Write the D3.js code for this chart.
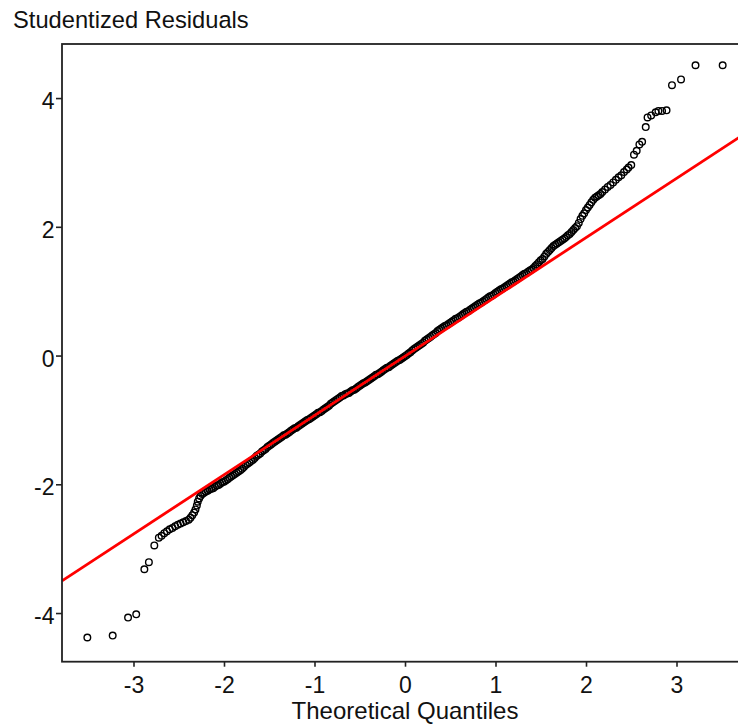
<!DOCTYPE html>
<html>
<head>
<meta charset="utf-8">
<script src="https://cdn.jsdelivr.net/npm/d3@7"></script>
<style>
  body { margin: 0; background: #fff; }
  svg { display: block; font-family: "Liberation Sans", Arial, sans-serif; }
</style>
</head>
<body>
<div id="chart"></div>
<script>
// [theoretical quantile, studentized residual] pairs
var lowerTail = [
  [-3.51, -4.38], [-3.23, -4.35], [-3.06, -4.07], [-2.97, -4.02],
  [-2.88, -3.32], [-2.83, -3.21], [-2.77, -2.95], [-2.72, -2.83]
];
var lowerBand = [
  [-2.69, -2.80], [-2.66, -2.76], [-2.63, -2.73], [-2.60, -2.70], [-2.57, -2.68],
  [-2.54, -2.65], [-2.51, -2.63], [-2.48, -2.61], [-2.45, -2.59], [-2.42, -2.57],
  [-2.39, -2.55], [-2.37, -2.52], [-2.35, -2.48], [-2.33, -2.44], [-2.315, -2.39],
  [-2.30, -2.33], [-2.29, -2.27], [-2.275, -2.22],
  [-2.26, -2.18], [-2.24, -2.15], [-2.22, -2.13], [-2.20, -2.11], [-2.18, -2.10],
  [-2.16, -2.08], [-2.14, -2.07], [-2.12, -2.06], [-2.10, -2.04], [-2.08, -2.02],
  [-2.06, -2.01], [-2.04, -1.99], [-2.02, -1.97], [-2.00, -1.96], [-1.98, -1.94],
  [-1.96, -1.92], [-1.94, -1.90], [-1.92, -1.88], [-1.90, -1.86], [-1.88, -1.84],
  [-1.86, -1.82], [-1.84, -1.80], [-1.82, -1.78], [-1.80, -1.76], [-1.78, -1.73],
  [-1.76, -1.70], [-1.74, -1.68], [-1.72, -1.66], [-1.70, -1.64], [-1.68, -1.62],
  [-1.66, -1.59], [-1.64, -1.56], [-1.62, -1.54], [-1.60, -1.52], [-1.58, -1.49],
  [-1.56, -1.47], [-1.54, -1.45], [-1.52, -1.42], [-1.50, -1.40], [-1.48, -1.38],
  [-1.46, -1.36], [-1.44, -1.34], [-1.42, -1.32]
];
var middleBand = [
  [-1.40, -1.30], [-1.38, -1.28], [-1.36, -1.26], [-1.34, -1.24], [-1.32, -1.23],
  [-1.30, -1.21], [-1.28, -1.19], [-1.26, -1.17], [-1.24, -1.15], [-1.22, -1.13],
  [-1.20, -1.12], [-1.18, -1.10], [-1.16, -1.08], [-1.14, -1.06], [-1.12, -1.04],
  [-1.10, -1.02], [-1.08, -1.00], [-1.06, -0.99], [-1.04, -0.97], [-1.02, -0.95],
  [-1.00, -0.93], [-0.98, -0.91], [-0.96, -0.89], [-0.94, -0.88], [-0.92, -0.86],
  [-0.90, -0.84], [-0.88, -0.82], [-0.86, -0.80], [-0.84, -0.78], [-0.82, -0.75],
  [-0.80, -0.73], [-0.78, -0.71], [-0.76, -0.69], [-0.74, -0.67], [-0.72, -0.65],
  [-0.70, -0.63], [-0.68, -0.62], [-0.66, -0.60], [-0.64, -0.59], [-0.62, -0.58],
  [-0.60, -0.56], [-0.58, -0.54], [-0.56, -0.53], [-0.54, -0.51], [-0.52, -0.49],
  [-0.50, -0.47], [-0.48, -0.45], [-0.46, -0.43], [-0.44, -0.42], [-0.42, -0.40],
  [-0.40, -0.38], [-0.38, -0.36], [-0.36, -0.34], [-0.34, -0.32], [-0.32, -0.30],
  [-0.30, -0.29], [-0.28, -0.27], [-0.26, -0.25], [-0.24, -0.23], [-0.22, -0.21],
  [-0.20, -0.19], [-0.18, -0.18], [-0.16, -0.16], [-0.14, -0.14], [-0.12, -0.12],
  [-0.10, -0.10], [-0.08, -0.08], [-0.06, -0.07], [-0.04, -0.05], [-0.02, -0.03],
  [0.00, -0.01], [0.02, 0.01], [0.04, 0.03], [0.06, 0.05], [0.08, 0.08],
  [0.10, 0.10], [0.12, 0.12], [0.14, 0.14], [0.16, 0.16], [0.18, 0.18],
  [0.20, 0.20], [0.22, 0.23], [0.24, 0.25], [0.26, 0.27], [0.28, 0.29],
  [0.30, 0.31], [0.32, 0.33], [0.34, 0.35], [0.36, 0.38], [0.38, 0.40],
  [0.40, 0.42], [0.42, 0.44], [0.44, 0.46], [0.46, 0.47], [0.48, 0.49],
  [0.50, 0.51], [0.52, 0.53], [0.54, 0.55], [0.56, 0.57], [0.58, 0.58],
  [0.60, 0.60], [0.62, 0.62], [0.64, 0.64], [0.66, 0.66], [0.68, 0.68],
  [0.70, 0.69], [0.72, 0.71], [0.74, 0.73], [0.76, 0.75], [0.78, 0.77],
  [0.80, 0.79], [0.82, 0.81], [0.84, 0.82], [0.86, 0.84], [0.88, 0.86],
  [0.90, 0.88], [0.92, 0.90], [0.94, 0.92], [0.96, 0.93], [0.98, 0.95],
  [1.00, 0.97], [1.02, 0.99], [1.04, 1.01], [1.06, 1.03], [1.08, 1.04],
  [1.10, 1.06], [1.12, 1.08], [1.14, 1.10], [1.16, 1.12], [1.18, 1.14],
  [1.20, 1.15], [1.22, 1.17], [1.24, 1.19], [1.26, 1.21], [1.28, 1.23]
];
var upperBand = [
  [1.30, 1.25], [1.32, 1.27], [1.34, 1.28], [1.36, 1.30], [1.38, 1.32],
  [1.40, 1.335], [1.42, 1.36], [1.44, 1.39], [1.46, 1.42], [1.48, 1.45],
  [1.50, 1.48], [1.52, 1.50], [1.54, 1.54], [1.56, 1.58], [1.58, 1.61],
  [1.60, 1.64], [1.62, 1.67], [1.64, 1.70], [1.66, 1.72], [1.68, 1.74],
  [1.70, 1.76], [1.72, 1.78], [1.74, 1.80], [1.76, 1.82], [1.78, 1.84],
  [1.80, 1.87], [1.82, 1.89], [1.84, 1.92], [1.86, 1.95], [1.88, 1.98],
  [1.90, 2.01], [1.92, 2.06], [1.94, 2.12], [1.96, 2.17], [1.98, 2.21],
  [2.00, 2.26], [2.02, 2.30], [2.04, 2.34], [2.06, 2.38], [2.08, 2.42],
  [2.10, 2.45], [2.12, 2.47], [2.14, 2.49], [2.16, 2.51], [2.18, 2.54],
  [2.21, 2.58], [2.24, 2.62], [2.27, 2.65], [2.30, 2.69], [2.33, 2.73],
  [2.36, 2.77], [2.39, 2.80], [2.42, 2.85], [2.45, 2.89], [2.47, 2.92]
];
var upperTail = [
  [2.50, 2.96], [2.53, 3.12], [2.56, 3.18], [2.59, 3.28], [2.62, 3.32],
  [2.66, 3.55], [2.68, 3.70], [2.72, 3.73], [2.77, 3.78], [2.80, 3.80],
  [2.84, 3.80], [2.89, 3.81], [2.95, 4.20], [3.05, 4.29], [3.21, 4.51],
  [3.51, 4.51]
];
var xTicks = [-3, -2, -1, 0, 1, 2, 3];
var yTicks = [-4, -2, 0, 2, 4];
var refLine = {intercept: -0.01, slope: 0.921};

var qqplot = function () {

  var width = 738, height = 724;
  var plot = {left: 62, right: 748, top: 44, bottom: 661.7};

  function draw(container) {
    var points = lowerTail.concat(lowerBand, middleBand, upperBand, upperTail);

    var x = d3.scaleLinear().domain([-3.79, 3.79]).range([plot.left, plot.right]);
    var y = d3.scaleLinear().domain([-4.756, 4.84]).range([plot.bottom, plot.top]);

    var svg = d3.select(container).append("svg")
      .attr("width", width)
      .attr("height", height);

    svg.append("clipPath").attr("id", "plotClip")
      .append("rect")
        .attr("x", plot.left).attr("y", plot.top)
        .attr("width", plot.right - plot.left)
        .attr("height", plot.bottom - plot.top);

    var body = svg.append("g").attr("clip-path", "url(#plotClip)");

    body.selectAll("circle").data(points)
      .enter()
      .append("circle")
        .attr("cx", function (d) { return x(d[0]); })
        .attr("cy", function (d) { return y(d[1]); })
        .attr("r", 3.3)
        .attr("fill", "none")
        .attr("stroke", "#000")
        .attr("stroke-width", 1.4);

    // reference line through the quartiles
    var xs = x.domain();
    body.append("line")
      .attr("x1", x(xs[0])).attr("y1", y(refLine.intercept + refLine.slope * xs[0]))
      .attr("x2", x(xs[1])).attr("y2", y(refLine.intercept + refLine.slope * xs[1]))
      .attr("stroke", "#ff0000")
      .attr("stroke-width", 2.8);

    // axes
    var fmt = function (d) { return String(d); };
    var xAxis = svg.append("g")
      .attr("transform", "translate(0," + plot.bottom + ")")
      .call(d3.axisBottom(x).tickValues(xTicks).tickFormat(fmt)
            .tickSize(5).tickSizeOuter(0).tickPadding(10));
    var yAxis = svg.append("g")
      .attr("transform", "translate(" + plot.left + ",0)")
      .call(d3.axisLeft(y).tickValues(yTicks).tickFormat(fmt)
            .tickSize(6).tickSizeOuter(0).tickPadding(1.5));

    [xAxis, yAxis].forEach(function (g) {
      g.select(".domain").remove();
      g.selectAll(".tick line").attr("stroke", "#222").attr("stroke-width", 1.6);
      g.selectAll(".tick text").attr("fill", "#111").style("font-size", "23px");
    });
    yAxis.selectAll(".tick text").attr("dy", "0.46em");

    // frame
    svg.append("rect")
      .attr("x", plot.left).attr("y", plot.top)
      .attr("width", plot.right - plot.left)
      .attr("height", plot.bottom - plot.top)
      .attr("fill", "none")
      .attr("stroke", "#222")
      .attr("stroke-width", 1.8);

    svg.append("text")
      .attr("x", 13).attr("y", 28)
      .attr("fill", "#111")
      .style("font-size", "23.7px")
      .text("Studentized Residuals");

    svg.append("text")
      .attr("x", (plot.left + plot.right) / 2).attr("y", 719)
      .attr("text-anchor", "middle")
      .attr("fill", "#111")
      .style("font-size", "24px")
      .text("Theoretical Quantiles");
  }

  return {draw: draw};
}();

qqplot.draw("#chart");
</script>
</body>
</html>
